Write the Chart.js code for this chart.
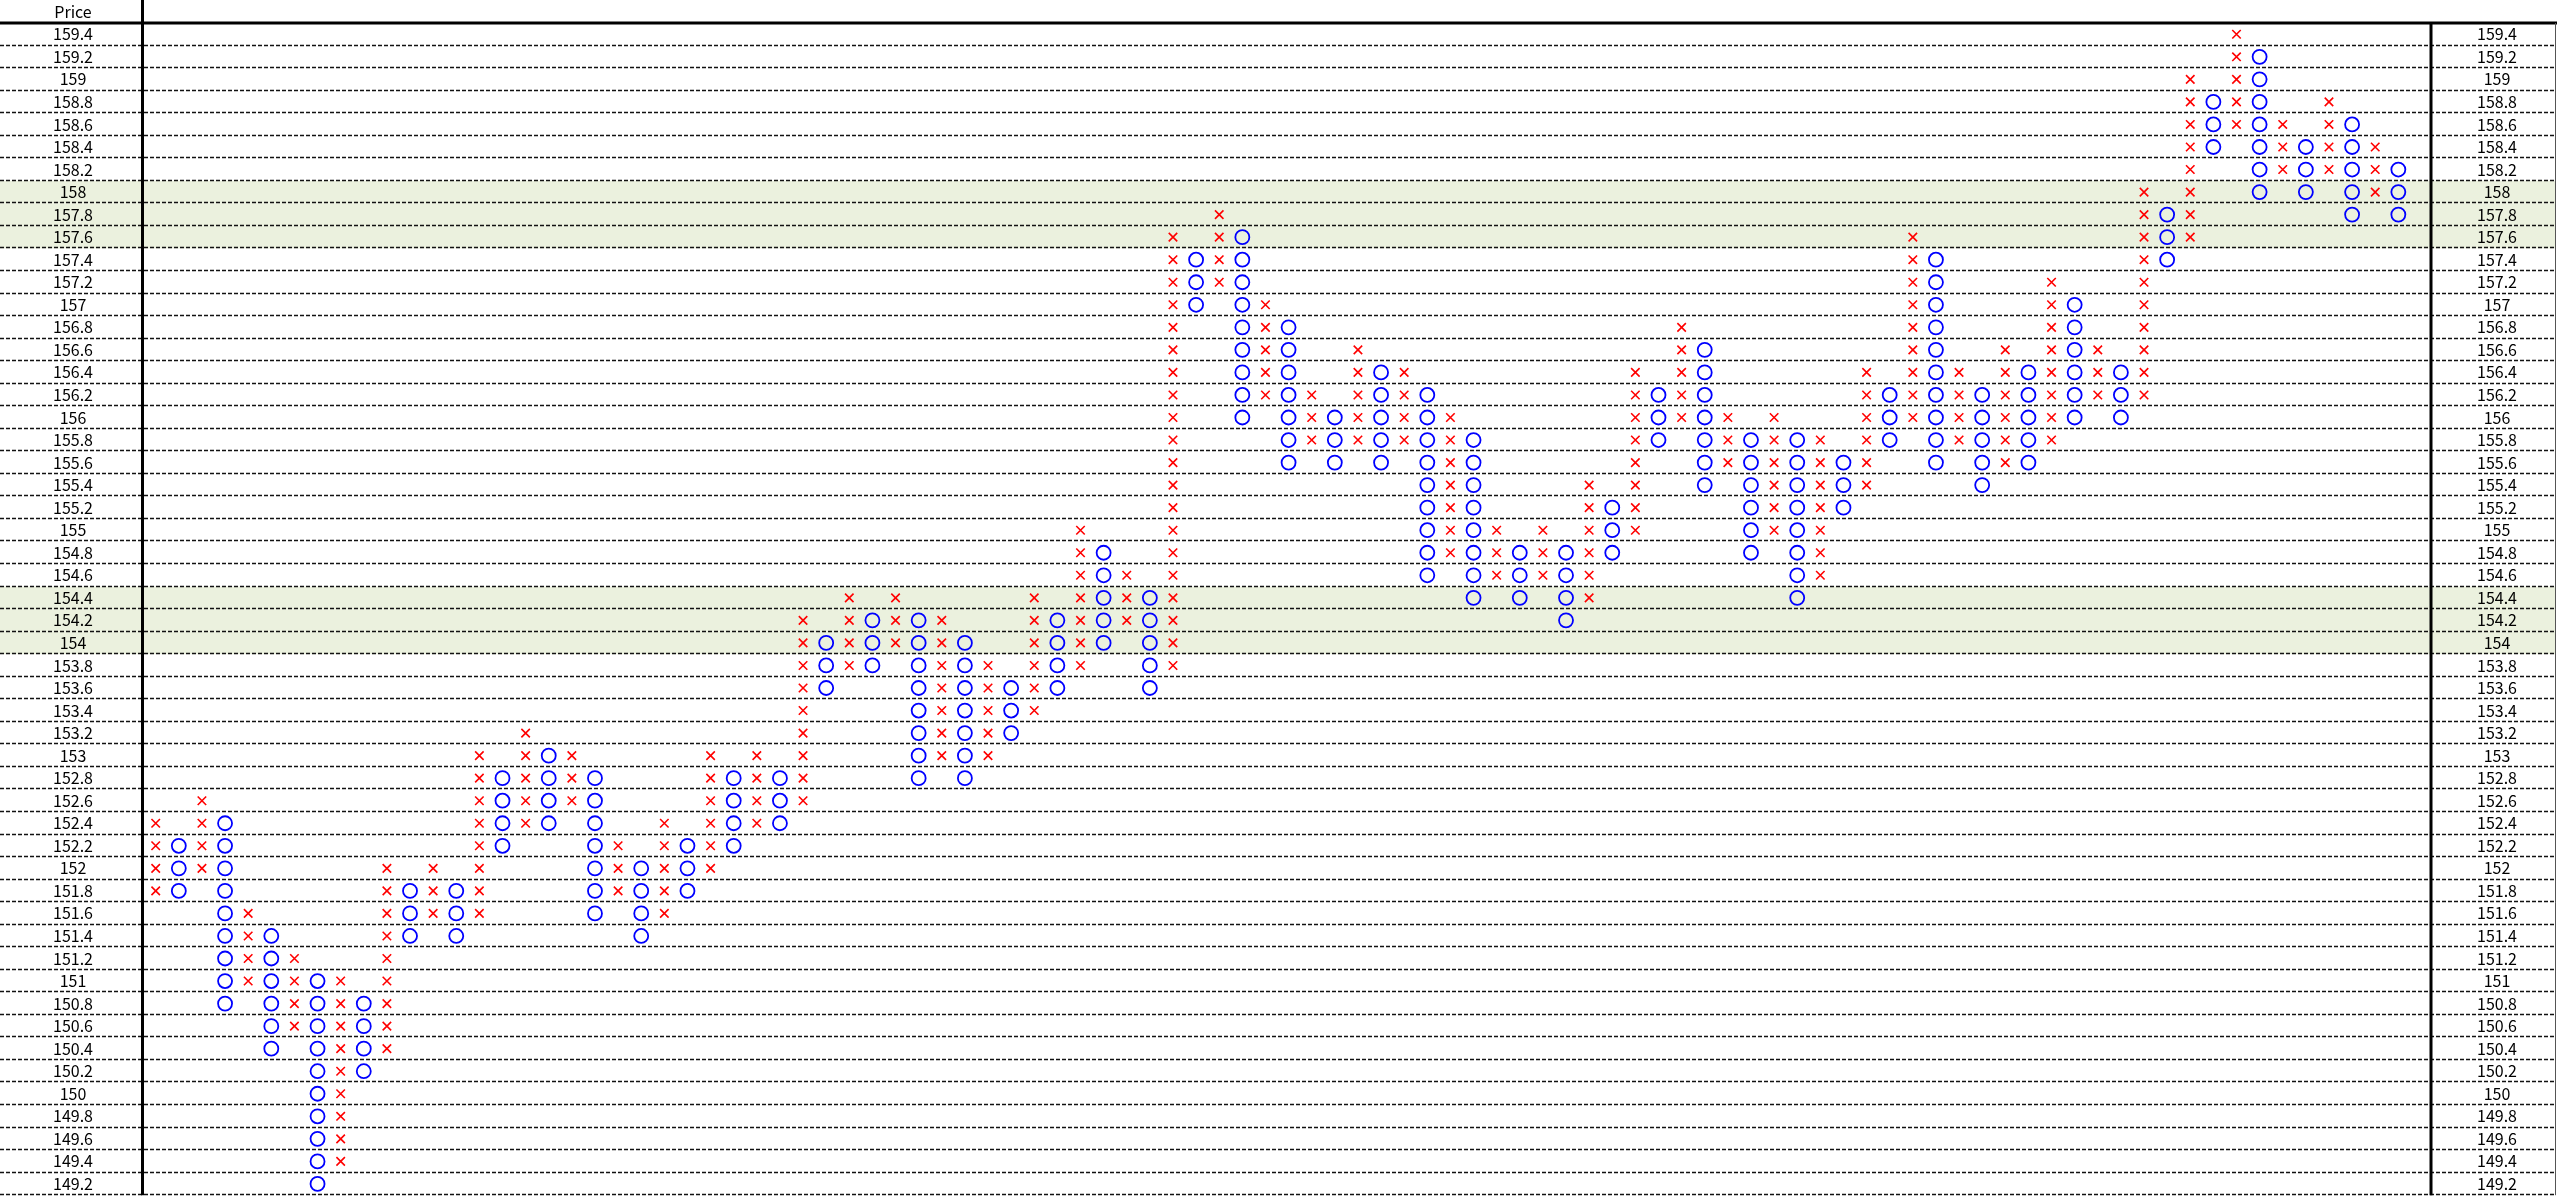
<!DOCTYPE html>
<html>
<head>
<meta charset="utf-8">
<script src="https://cdn.jsdelivr.net/npm/chart.js@4.4.1/dist/chart.umd.min.js"></script>
<style>
html,body{margin:0;padding:0;background:#fff;overflow:hidden}
#wrap{width:2560px;height:1204px;position:relative}
</style>
</head>
<body>
<div id="wrap"><canvas id="c" width="2560" height="1204"></canvas></div>
<script>
// ---------------- DATA ----------------
const priceLabels = ['159.4','159.2','159','158.8','158.6','158.4','158.2','158','157.8','157.6',
  '157.4','157.2','157','156.8','156.6','156.4','156.2','156','155.8','155.6',
  '155.4','155.2','155','154.8','154.6','154.4','154.2','154','153.8','153.6',
  '153.4','153.2','153','152.8','152.6','152.4','152.2','152','151.8','151.6',
  '151.4','151.2','151','150.8','150.6','150.4','150.2','150','149.8','149.6',
  '149.4','149.2'];

const highlightLabels = ['158','157.8','157.6','154.4','154.2','154'];

// column type: X = rising column, O = falling column
const colKind = 'XOXOXOXOXO' + 'XOXOXOXOXO' + 'XOXOXOXOXO' + 'XOXOXOXOXO' + 'XOXOXOXOXO' +
                'XOXOXOXOXO' + 'XOXOXOXOXO' + 'XOXOXOXOXO' + 'XOXOXOXOXO' + 'XOXOXOXO';

const colLow = [151.8,151.8,152.0,150.8,151.0,150.4,150.6,149.2,149.4,150.2,
  150.4,151.4,151.6,151.4,151.6,152.2,152.4,152.4,152.6,151.6,
  151.8,151.4,151.6,151.8,152.0,152.2,152.4,152.4,152.6,153.6,
  153.8,153.8,154.0,152.8,153.0,152.8,153.0,153.2,153.4,153.6,
  153.8,154.0,154.2,153.6,153.8,157.0,157.2,156.0,156.2,155.6,
  155.8,155.6,155.8,155.6,155.8,154.6,154.8,154.4,154.6,154.4,
  154.6,154.2,154.4,154.8,155.0,155.8,156.0,155.4,155.6,154.8,
  155.0,154.4,154.6,155.2,155.4,155.8,156.0,155.6,155.8,155.4,
  155.6,155.6,155.8,156.0,156.2,156.0,156.2,157.4,157.6,158.4,
  158.6,158.0,158.2,158.0,158.2,157.8,158.0,157.8];

const colHigh = [152.4,152.2,152.6,152.4,151.6,151.4,151.2,151.0,151.0,150.8,
  152.0,151.8,152.0,151.8,153.0,152.8,153.2,153.0,153.0,152.8,
  152.2,152.0,152.4,152.2,153.0,152.8,153.0,152.8,154.2,154.0,
  154.4,154.2,154.4,154.2,154.2,154.0,153.8,153.6,154.4,154.2,
  155.0,154.8,154.6,154.4,157.6,157.4,157.8,157.6,157.0,156.8,
  156.2,156.0,156.6,156.4,156.4,156.2,156.0,155.8,155.0,154.8,
  155.0,154.8,155.4,155.2,156.4,156.2,156.8,156.6,156.0,155.8,
  156.0,155.8,155.8,155.6,156.4,156.2,157.6,157.4,156.4,156.2,
  156.6,156.4,157.2,157.0,156.6,156.4,158.0,157.8,159.0,158.8,
  159.4,159.2,158.6,158.4,158.8,158.6,158.4,158.2];

const headerText = 'Price';

// ---------------- BUILD POINTS ----------------
const toKey = v => Math.round(parseFloat(v) * 10);
const labelByKey = {};
priceLabels.forEach(l => { labelByKey[toKey(l)] = l; });

const xPts = [], oPts = [];
for (let i = 0; i < colKind.length; i++) {
  for (let k = toKey(colLow[i]); k <= toKey(colHigh[i]); k += 2) {
    const pt = { x: i, y: labelByKey[k] };
    (colKind[i] === 'X' ? xPts : oPts).push(pt);
  }
}

// ---------------- LAYOUT ----------------
const FONT_FAMILY = '"Noto Sans CJK JP", "Liberation Sans", sans-serif';
const FONT_SIZE = 16;
const LEFT_W = 144, RIGHT_X = 2431, RIGHT_BORDER = 2556, HEADER_H = 23;
const LEFT_CENTER = 73, RIGHT_CENTER = 2497;
const COL0_X = 155.7, COL_W = 23.12;

const mctx = document.createElement('canvas').getContext('2d');
mctx.font = FONT_SIZE + 'px ' + FONT_FAMILY;
const widest = Math.max(...priceLabels.map(l => mctx.measureText(l).width));

const xMin = -(COL0_X - LEFT_W) / COL_W;
const xMax = xMin + (RIGHT_X - LEFT_W) / COL_W;

const gridPlugin = {
  id: 'pfGrid',
  beforeDraw(chart) {
    const { ctx, chartArea: ca, scales } = chart;
    const y = scales.y;
    const rowH = (ca.bottom - ca.top) / priceLabels.length;
    ctx.save();
    ctx.fillStyle = '#EBF1DE';
    highlightLabels.forEach(l => {
      const yc = y.getPixelForValue(priceLabels.indexOf(l));
      ctx.fillRect(0, yc - rowH / 2, RIGHT_BORDER, rowH);
    });
    ctx.strokeStyle = '#111';
    ctx.lineWidth = 1.3;
    ctx.setLineDash([4, 2]);
    for (let i = 0; i < priceLabels.length; i++) {
      const yb = Math.round(y.getPixelForValue(i) + rowH / 2) - 0.5;
      ctx.beginPath(); ctx.moveTo(0, yb); ctx.lineTo(RIGHT_BORDER, yb); ctx.stroke();
    }
    ctx.setLineDash([]);
    ctx.fillStyle = '#000';
    ctx.font = FONT_SIZE + 'px ' + FONT_FAMILY;
    ctx.textAlign = 'center';
    ctx.textBaseline = 'middle';
    ctx.fillText(headerText, LEFT_CENTER, 12);
    ctx.restore();
  },
  afterDraw(chart) {
    const { ctx, chartArea: ca } = chart;
    ctx.save();
    ctx.strokeStyle = '#000';
    ctx.lineWidth = 3;
    ctx.beginPath(); ctx.moveTo(0, HEADER_H); ctx.lineTo(RIGHT_BORDER + 1, HEADER_H); ctx.stroke();
    ctx.beginPath(); ctx.moveTo(LEFT_W - 1.5, 0); ctx.lineTo(LEFT_W - 1.5, ca.bottom); ctx.stroke();
    ctx.beginPath(); ctx.moveTo(RIGHT_X, HEADER_H); ctx.lineTo(RIGHT_X, ca.bottom); ctx.stroke();
    ctx.strokeStyle = '#555';
    ctx.lineWidth = 1;
    ctx.beginPath(); ctx.moveTo(RIGHT_BORDER - 0.5, HEADER_H); ctx.lineTo(RIGHT_BORDER - 0.5, ca.bottom); ctx.stroke();
    ctx.restore();
  }
};

const tickFont = { family: FONT_FAMILY, size: FONT_SIZE };
function fixFit(width) {
  return function (s) {
    s.width = width;
    s.paddingTop = 0; s.paddingBottom = 0;
  };
}

new Chart(document.getElementById('c'), {
  type: 'scatter',
  data: {
    datasets: [
      { label: 'X', data: xPts, yAxisID: 'y', pointStyle: 'crossRot', pointRadius: 6,
        borderColor: '#ff0000', backgroundColor: '#ff0000', pointBorderWidth: 1.6, showLine: false },
      { label: 'O', data: oPts, yAxisID: 'y', pointStyle: 'circle', pointRadius: 7,
        borderColor: '#0000ff', backgroundColor: 'rgba(0,0,0,0)', pointBorderWidth: 1.8, showLine: false }
    ]
  },
  options: {
    responsive: false,
    animation: false,
    events: [],
    layout: { padding: { top: HEADER_H, bottom: 0, left: 0, right: 0 } },
    plugins: { legend: { display: false }, tooltip: { enabled: false } },
    scales: {
      x: { type: 'linear', min: xMin, max: xMax, display: false },
      y: {
        type: 'category', position: 'left', labels: priceLabels, offset: true,
        grid: { display: false, drawTicks: false }, border: { display: false },
        ticks: { autoSkip: false, font: tickFont, color: '#000', crossAlign: 'center',
                 padding: LEFT_W - LEFT_CENTER - widest / 2 },
        afterFit: fixFit(LEFT_W)
      },
      y2: {
        type: 'category', position: 'right', labels: priceLabels, offset: true,
        grid: { display: false, drawTicks: false }, border: { display: false },
        ticks: { autoSkip: false, font: tickFont, color: '#000', crossAlign: 'center',
                 padding: RIGHT_CENTER - RIGHT_X - widest / 2 },
        afterFit: fixFit(2560 - RIGHT_X)
      }
    }
  },
  plugins: [gridPlugin]
});
</script>
</body>
</html>
